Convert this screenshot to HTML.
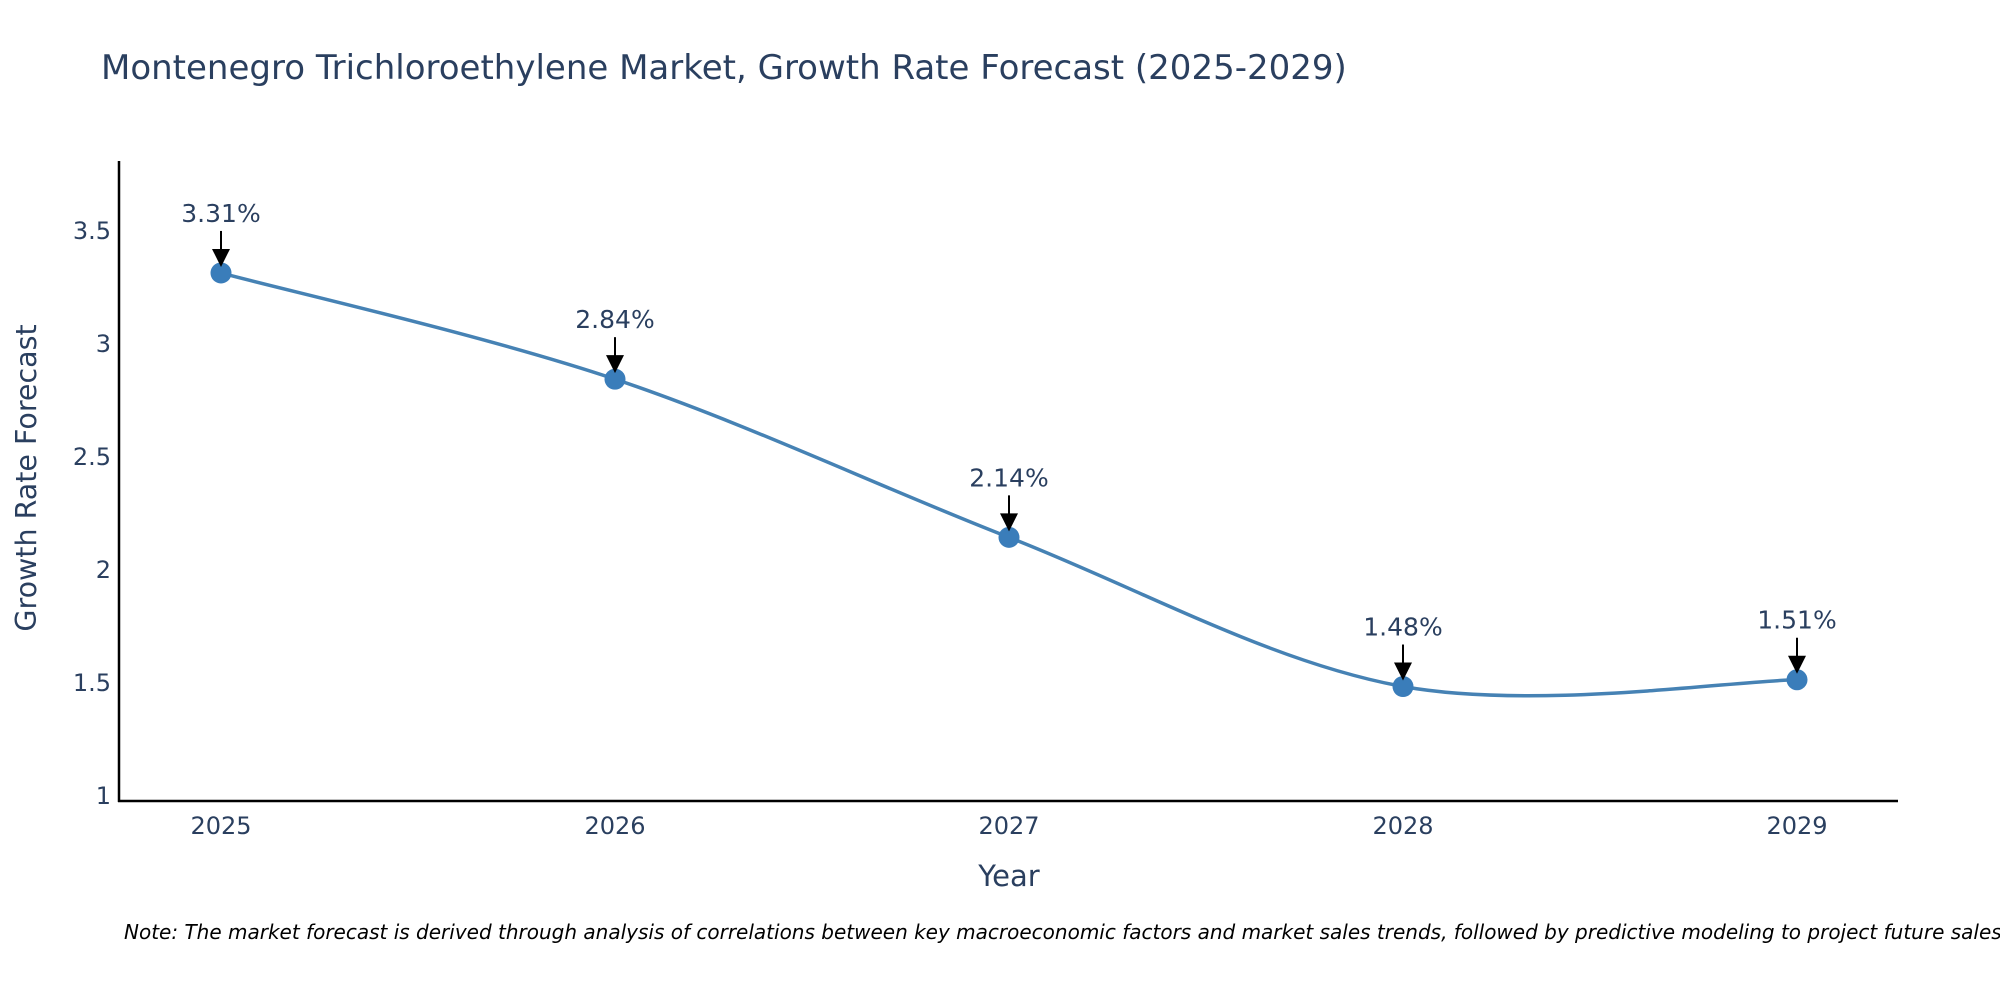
<!DOCTYPE html>
<html><head><meta charset="utf-8"><style>
body{margin:0;background:#fff;}
svg{display:block;font-family:"DejaVu Sans","Liberation Sans",sans-serif;}
</style></head><body>
<svg id="chart" width="2000" height="1000" viewBox="0 0 2000 1000">
<text x="101" y="79" font-size="34" fill="#2a3f5f">Montenegro Trichloroethylene Market, Growth Rate Forecast (2025-2029)</text>
<g id="yticks"></g>
<g id="xticks"></g>
<path id="line" fill="none" stroke="#4682b4" stroke-width="3.5"/>
<g id="points"></g>
<g id="annots"></g>
<line x1="119" y1="161" x2="119" y2="802" stroke="#000" stroke-width="2.5"/>
<line x1="118" y1="801" x2="1898" y2="801" stroke="#000" stroke-width="2.5"/>
<text x="1009" y="886" font-size="29" fill="#2a3f5f" text-anchor="middle">Year</text>
<text transform="translate(36,478) rotate(-90)" font-size="28.5" fill="#2a3f5f" text-anchor="middle">Growth Rate Forecast</text>
<text x="124" y="939" font-size="20" font-style="italic" fill="#000">Note: The market forecast is derived through analysis of correlations between key macroeconomic factors and market sales trends, followed by predictive modeling to project future sales.</text>
</svg>
<script>
const years = [2025, 2026, 2027, 2028, 2029];
const values = [3.31, 2.84, 2.14, 1.48, 1.51];
const labels = ["3.31%", "2.84%", "2.14%", "1.48%", "1.51%"];
const yTicks = [1, 1.5, 2, 2.5, 3, 3.5];
const yTickLabels = ["1", "1.5", "2", "2.5", "3", "3.5"];

const NS = "http://www.w3.org/2000/svg";
function X(v){ return 221 + (v - 2025) * 394; }
function Y(v){ return 795 - (v - 1) * 226; }
function mk(tag, attrs, parent){
  const e = document.createElementNS(NS, tag);
  for (const k in attrs) e.setAttribute(k, attrs[k]);
  parent.appendChild(e);
  return e;
}
const yg = document.getElementById('yticks');
yTicks.forEach((t,i)=>{
  const e = mk('text',{x:111,y:Y(t)+9,'font-size':24,fill:'#2a3f5f','text-anchor':'end'},yg);
  
  
  e.textContent = yTickLabels[i];
});
const xg = document.getElementById('xticks');
years.forEach(yr=>{
  const e = mk('text',{x:X(yr),y:834,'font-size':24,fill:'#2a3f5f','text-anchor':'middle'},xg);
  
  
  e.textContent = String(yr);
});
const pts = years.map((yr,i)=>[X(yr), Y(values[i])]);
let d = 'M' + pts[0][0] + ',' + pts[0][1];
for (let i=0;i<pts.length-1;i++){
  const p0 = pts[Math.max(0,i-1)], p1 = pts[i], p2 = pts[i+1], p3 = pts[Math.min(pts.length-1,i+2)];
  const c1 = [p1[0]+(p2[0]-p0[0])/6, p1[1]+(p2[1]-p0[1])/6];
  const c2 = [p2[0]-(p3[0]-p1[0])/6, p2[1]-(p3[1]-p1[1])/6];
  d += ' C'+c1[0]+','+c1[1]+' '+c2[0]+','+c2[1]+' '+p2[0]+','+p2[1];
}
document.getElementById('line').setAttribute('d', d);
const pg = document.getElementById('points');
const ag = document.getElementById('annots');
pts.forEach((p,i)=>{
  const c = mk('circle',{cx:p[0],cy:p[1],r:10.5,fill:'#3a7dba'},pg);
  
  
  const l = mk('line',{x1:p[0],y1:p[1]-42,x2:p[0],y2:p[1]-22,stroke:'#000','stroke-width':2},ag);
  
  
  const h = mk('polygon',{points:(p[0]-9)+','+(p[1]-24)+' '+(p[0]+9)+','+(p[1]-24)+' '+p[0]+','+(p[1]-6),fill:'#000'},ag);
  
  
  const t = mk('text',{x:p[0],y:p[1]-51,'font-size':25,fill:'#2a3f5f','text-anchor':'middle'},ag);
  
  
  t.textContent = labels[i];
});
</script>
</body></html>
